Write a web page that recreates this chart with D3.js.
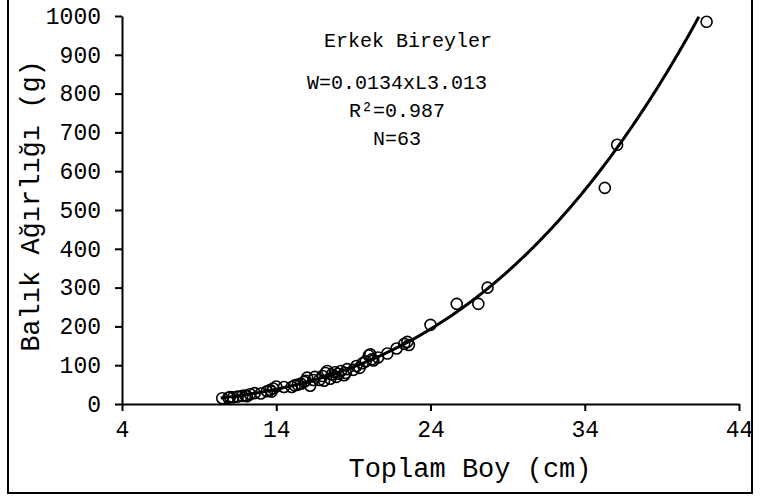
<!DOCTYPE html>
<html lang="tr">
<head>
  <meta charset="UTF-8">
  <title>Erkek Bireyler</title>
  <script src="https://d3js.org/d3.v7.min.js"></script>
  <style>
    body { margin: 0; background: #fff; }
    text { font-family: "Liberation Mono", "Courier New", monospace; fill: #000; }
  </style>
</head>
<body>
  <div id="chart"></div>
  <script>
    // total length (cm) and weight (g) of the male fish
    const lengths = [10.5, 10.9, 11.2, 11.5, 11.8, 12.0, 12.3, 12.6, 13.0, 13.4,
      13.6, 13.8, 14.0, 13.7, 15.0, 15.4, 15.6, 15.8, 16.0, 16.2,
      16.4, 16.8, 17.0, 17.2, 17.3, 17.5, 17.6, 17.8, 17.9, 18.0,
      18.2, 18.4, 18.6, 19.0, 19.2, 19.4, 19.8, 20.0, 20.1, 20.3,
      20.6, 21.2, 21.8, 22.3, 22.5, 22.6, 24.0, 25.7, 27.1, 27.7,
      35.3, 36.1, 41.9, 11.0, 12.1, 14.5, 15.2, 16.5, 17.1, 18.5,
      19.6, 20.2, 15.9];
    const weights = [15, 16, 17, 19, 21, 22, 25, 28, 27, 33,
      36, 40, 45, 32, 44, 50, 52, 57, 68, 47,
      62, 62, 72, 80, 85, 65, 76, 82, 70, 78,
      85, 74, 90, 88, 98, 93, 110, 125, 128, 112,
      120, 130, 143, 155, 160, 152, 204, 258, 258, 300,
      557, 668, 985, 18, 20, 44, 48, 70, 60, 80,
      105, 115, 60];

    const xTicks = [4, 14, 24, 34, 44];
    const yTicks = [0, 100, 200, 300, 400, 500, 600, 700, 800, 900, 1000];

    // fitted W = a * L^b
    const fitA = 0.0134;
    const fitB = 3.013;
    const fitStart = 10.4;

    const title = 'Erkek Bireyler';
    const equation = ['W=0.0134xL3.013', 'R²=0.987', 'N=63'];

    const width = 760, height = 497;
    const svg = d3.select('#chart').append('svg')
      .attr('width', width)
      .attr('height', height);

    // outer frame
    svg.append('rect')
      .attr('x', 8).attr('y', -2)
      .attr('width', 744).attr('height', 495)
      .attr('fill', 'none')
      .attr('stroke', '#000')
      .attr('stroke-width', 2);

    const x = d3.scaleLinear().domain([4, 44]).range([122, 739]);
    const y = d3.scaleLinear().domain([0, 1000]).range([404, 16]);

    const xAxis = svg.append('g')
      .attr('transform', `translate(0,${y(0)})`)
      .call(d3.axisBottom(x).tickValues(xTicks).tickFormat(d3.format('d'))
        .tickSize(7).tickSizeOuter(0).tickPadding(10));
    const yAxis = svg.append('g')
      .attr('transform', `translate(${x(4)},0)`)
      .call(d3.axisLeft(y).tickValues(yTicks).tickFormat(d3.format('d'))
        .tickSize(7).tickSizeOuter(0).tickPadding(14));

    [xAxis, yAxis].forEach(g => {
      g.select('.domain').attr('stroke', '#000').attr('stroke-width', 2);
      g.selectAll('.tick line').attr('stroke', '#000').attr('stroke-width', 2);
      g.selectAll('.tick text')
        .style('font-family', '"Liberation Mono", "Courier New", monospace')
        .style('font-size', '23px')
        .attr('fill', '#000');
    });

    // trend line
    const curve = d3.range(fitStart, 41.6, 0.1)
      .map(L => [L, fitA * Math.pow(L, fitB)])
      .filter(d => d[1] <= 1000);
    svg.append('path')
      .datum(curve)
      .attr('fill', 'none')
      .attr('stroke', '#000')
      .attr('stroke-width', 3)
      .attr('d', d3.line().x(d => x(d[0])).y(d => y(d[1])));

    // observations
    svg.append('g').selectAll('circle')
      .data(lengths.map((L, i) => [L, weights[i]]))
      .enter()
      .append('circle')
      .attr('cx', d => x(d[0]))
      .attr('cy', d => y(d[1]))
      .attr('r', 5.5)
      .attr('fill', 'none')
      .attr('stroke', '#000')
      .attr('stroke-width', 1.6);

    // annotation
    svg.append('text')
      .attr('x', 408).attr('y', 47)
      .attr('text-anchor', 'middle')
      .style('font-size', '20px')
      .text(title);
    equation.forEach((t, i) => {
      svg.append('text')
        .attr('x', 397).attr('y', 89 + i * 28)
        .attr('text-anchor', 'middle')
        .style('font-size', '20px')
        .text(t);
    });

    // axis titles
    svg.append('text')
      .attr('x', 470).attr('y', 477)
      .attr('text-anchor', 'middle')
      .style('font-size', '27px')
      .text('Toplam Boy (cm)');
    svg.append('text')
      .attr('transform', 'translate(39,206) rotate(-90)')
      .attr('text-anchor', 'middle')
      .style('font-size', '27px')
      .text('Balık Ağırlığı (g)');
  </script>
</body>
</html>
